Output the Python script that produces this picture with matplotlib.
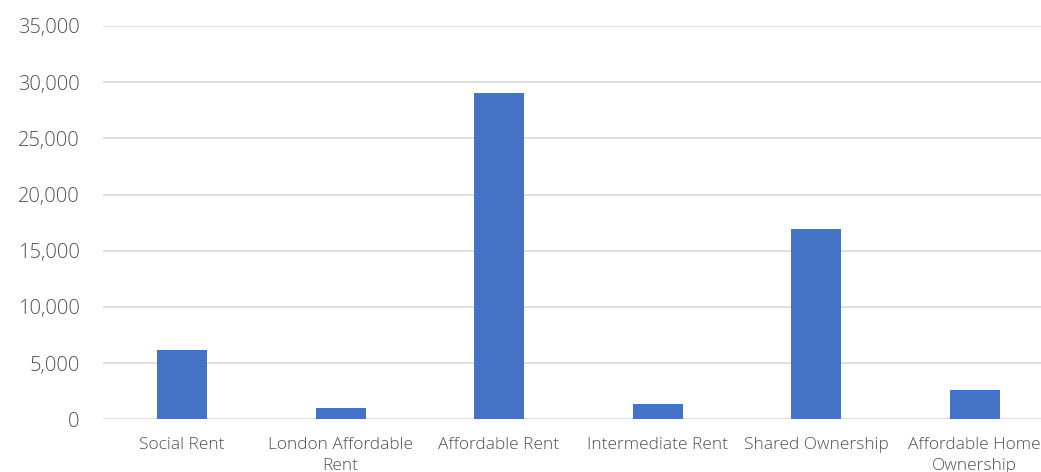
import matplotlib
matplotlib.use("Agg")
import matplotlib.pyplot as plt
from matplotlib.ticker import FuncFormatter

categories = ["Social Rent", "London Affordable\nRent", "Affordable Rent",
              "Intermediate Rent", "Shared Ownership", "Affordable Home\nOwnership"]
values = [6200, 1000, 29000, 1350, 16950, 2600]
y_ticks = [0, 5000, 10000, 15000, 20000, 25000, 30000, 35000]

plt.rcParams['font.family'] = ['Open Sans', 'DejaVu Sans']

W, H = 1041, 472
fig = plt.figure(figsize=(W/100, H/100), dpi=100)
ax = fig.add_axes([102.75/W, 1-419.3/H, 951/W, (419.3-26)/H])

x = list(range(len(categories)))
ax.bar(x, values, width=50/158.5, color="#4472C4", zorder=3)

ax.set_xlim(-0.5, len(categories)-0.5)
ax.set_ylim(0, 35000)
ax.set_yticks(y_ticks)
ax.yaxis.set_major_formatter(FuncFormatter(lambda v, p: f"{int(v):,}"))
ax.grid(axis='y', color="#d9d9d9", linewidth=1.2, zorder=0)
for s in ax.spines.values():
    s.set_visible(False)
ax.tick_params(axis='both', length=0)
ax.tick_params(axis='y', labelsize=14.5, labelcolor="#505050", pad=16.5)
ax.tick_params(axis='x', labelsize=12.5, labelcolor="#505050", pad=13)
ax.set_xticks(x)
ax.set_xticklabels(categories, linespacing=1.4)
for lbl in ax.get_xticklabels() + ax.get_yticklabels():
    lbl.set_fontweight('light')

fig.savefig("out.png", dpi=100)
